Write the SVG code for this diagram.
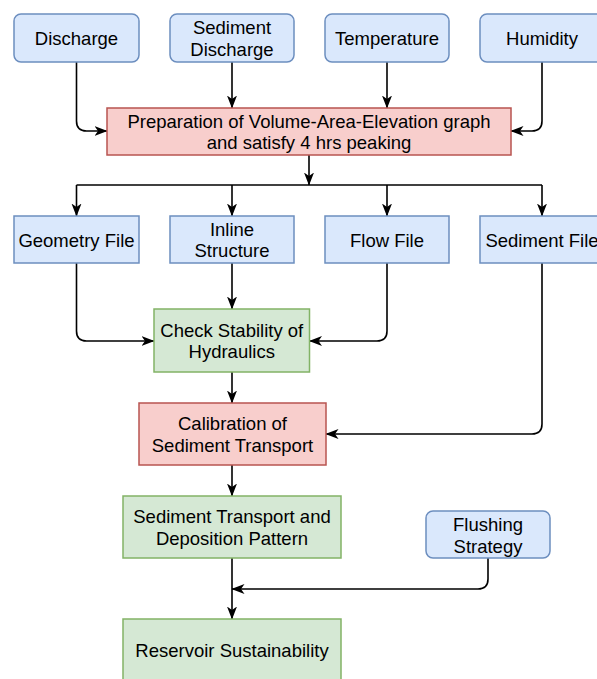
<svg xmlns="http://www.w3.org/2000/svg" width="597" height="679" viewBox="0 0 597 679">
<style>
.t{font-family:"Liberation Sans",Arial,Helvetica,sans-serif;font-size:18.5px;fill:#000;text-anchor:middle}
.blue{fill:#dae8fc;stroke:#6c8ebf;stroke-width:1.5}
.red{fill:#f8cecc;stroke:#b85450;stroke-width:1.5}
.green{fill:#d5e8d4;stroke:#82b366;stroke-width:1.5}
.c{fill:none;stroke:#000;stroke-width:1.6}
.a{marker-end:url(#arr)}
</style>
<defs>
<marker id="arr" viewBox="0 0 13 11" refX="12.5" refY="5.5" markerWidth="13" markerHeight="11" orient="auto" markerUnits="userSpaceOnUse">
<path d="M0,0.5 L13,5.5 L0,10.5 L3.5,5.5 Z" fill="#000"/>
</marker>
</defs>
<rect width="597" height="679" fill="#fff"/>
<g id="connectors">
<path class="c a" d="M76.5,62 V121 Q76.5,131 86.5,131 H107"/>
<path class="c a" d="M232,62 V108"/>
<path class="c a" d="M387,62 V108"/>
<path class="c a" d="M542,62 V121 Q542,131 532,131 H511"/>
<path class="c a" d="M309,155 V185"/>
<path class="c" d="M76.5,185 H542"/>
<path class="c a" d="M76.5,185 V216"/>
<path class="c a" d="M232,185 V216"/>
<path class="c a" d="M387,185 V216"/>
<path class="c a" d="M542,185 V216"/>
<path class="c a" d="M76.5,263 V331 Q76.5,341 86.5,341 H154"/>
<path class="c a" d="M232,263 V309"/>
<path class="c a" d="M387,263 V331 Q387,341 377,341 H309.5"/>
<path class="c a" d="M542,263 V424 Q542,434 532,434 H326"/>
<path class="c a" d="M232,372 V403"/>
<path class="c a" d="M232,465 V496"/>
<path class="c a" d="M232,558 V619"/>
<path class="c a" d="M488,558 V579 Q488,589 478,589 H232"/>
</g>
<g id="discharge"><rect class="blue" x="14" y="14" width="125" height="48" rx="7"/><text class="t" x="76.5" y="45">Discharge</text></g>
<g id="sediment-discharge"><rect class="blue" x="170" y="14" width="124" height="48" rx="7"/><text class="t" x="232" y="34.2">Sediment</text><text class="t" x="232" y="55.8">Discharge</text></g>
<g id="temperature"><rect class="blue" x="325" y="14" width="124" height="48" rx="7"/><text class="t" x="387" y="45">Temperature</text></g>
<g id="humidity"><rect class="blue" x="480" y="14" width="124" height="48" rx="7"/><text class="t" x="542" y="45">Humidity</text></g>
<g id="preparation"><rect class="red" x="107" y="108" width="404" height="47"/><text class="t" x="309" y="127.7">Preparation of Volume-Area-Elevation graph</text><text class="t" x="309" y="149.3">and satisfy 4 hrs peaking</text></g>
<g id="geometry-file"><rect class="blue" x="14" y="216" width="125" height="47"/><text class="t" x="76.5" y="246.5">Geometry File</text></g>
<g id="inline-structure"><rect class="blue" x="170" y="216" width="124" height="47"/><text class="t" x="232" y="235.8">Inline</text><text class="t" x="232" y="257.4">Structure</text></g>
<g id="flow-file"><rect class="blue" x="325" y="216" width="124" height="47"/><text class="t" x="387" y="246.5">Flow File</text></g>
<g id="sediment-file"><rect class="blue" x="480" y="216" width="124" height="47"/><text class="t" x="542" y="246.5">Sediment File</text></g>
<g id="check-stability"><rect class="green" x="154" y="309" width="155.5" height="63"/><text class="t" x="231.75" y="336.7">Check Stability of</text><text class="t" x="231.75" y="358.3">Hydraulics</text></g>
<g id="calibration"><rect class="red" x="139" y="403" width="187" height="62"/><text class="t" x="232.5" y="430.2">Calibration of</text><text class="t" x="232.5" y="451.8">Sediment Transport</text></g>
<g id="sediment-transport"><rect class="green" x="123" y="496" width="218" height="62"/><text class="t" x="232" y="523.2">Sediment Transport and</text><text class="t" x="232" y="544.8">Deposition Pattern</text></g>
<g id="flushing-strategy"><rect class="blue" x="426" y="511" width="124" height="47" rx="7"/><text class="t" x="488" y="531">Flushing</text><text class="t" x="488" y="552.6">Strategy</text></g>
<g id="reservoir"><rect class="green" x="123" y="619" width="218" height="62"/><text class="t" x="232" y="657">Reservoir Sustainability</text></g>
</svg>
